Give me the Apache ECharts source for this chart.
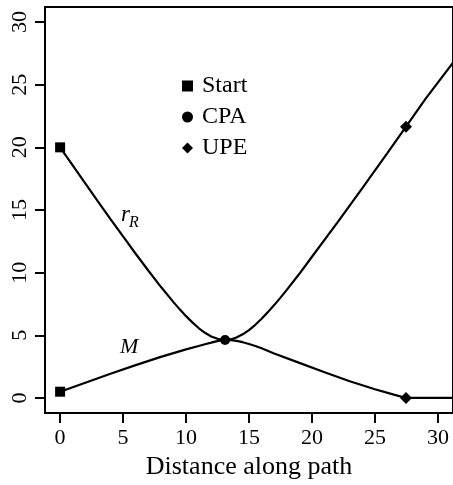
<!DOCTYPE html>
<html>
<head>
<meta charset="utf-8">
<script src="https://cdn.jsdelivr.net/npm/echarts@6/dist/echarts.min.js"></script>
<style>html,body{margin:0;padding:0;background:#fff;}#c{width:453px;height:485px;}</style>
</head>
<body>
<div id="c"></div>
<script>
// Data
var rX = [0,1,2,3,4,5,6,7,8,9,9.5,10,10.5,11,11.5,12,12.5,12.8,13.1,13.4,13.6,14,14.5,15,15.5,16,16.5,17,17.5,18,19,20,22,24,26,27.47,29,31.2];
var rY = [20.0,18.56,17.12,15.69,14.28,12.89,11.51,10.17,8.87,7.65,7.07,6.53,6.03,5.58,5.20,4.91,4.72,4.65,4.63,4.65,4.69,4.82,5.08,5.42,5.84,6.32,6.85,7.41,8.01,8.63,9.91,11.27,13.97,16.75,19.56,21.65,23.85,26.75];
var mX = [0,2,4,6,8,10,11,11.5,12,12.3,12.6,12.9,13.1,13.35,13.6,14,14.5,15,15.5,16,17,19,21,23,25,26.5,27.47,31.2];
var mY = [0.5,1.22,1.93,2.62,3.28,3.88,4.15,4.29,4.42,4.5,4.56,4.61,4.63,4.63,4.61,4.55,4.45,4.31,4.15,3.96,3.55,2.8,2.05,1.33,0.7,0.27,0,0];
var startPts = [[0,20.0],[0,0.5]];
var cpaPts = [[13.1,4.63]];
var upePts = [[27.47,21.65],[27.47,0]];
var xTicks = [0,5,10,15,20,25,30];
var yTicks = [0,5,10,15,20,25,30];
var legendNames = ['Start','CPA','UPE'];

function zip(xs, ys){ return xs.map(function(x,i){ return [x, ys[i]]; }); }

var FONT = 'Liberation Serif';
var diamond = 'path://M0,-1L1,0L0,1L-1,0Z';

var chart = echarts.init(document.getElementById('c'), null, {renderer:'canvas'});
chart.setOption({
  animation: false,
  backgroundColor: '#fff',
  grid: {left: 45, top: 7, width: 415, height: 406, show: true, borderColor: '#000', borderWidth: 2, backgroundColor: 'transparent'},
  xAxis: {
    type: 'value', min: -1.2, max: 31.2,
    axisLine: {show: false, onZero: false},
    splitLine: {show: false},
    axisTick: {show: true, length: 10, customValues: xTicks, lineStyle: {color: '#000', width: 2}},
    axisLabel: {customValues: xTicks, color: '#000', fontFamily: FONT, fontSize: 22, margin: 14},
    name: 'Distance along path', nameLocation: 'middle', nameGap: 40,
    nameTextStyle: {color: '#000', fontFamily: FONT, fontSize: 26}
  },
  yAxis: {
    type: 'value', min: -1.2, max: 31.2,
    axisLine: {show: false, onZero: false},
    splitLine: {show: false},
    axisTick: {show: true, length: 10, customValues: yTicks, lineStyle: {color: '#000', width: 2}},
    axisLabel: {customValues: yTicks, rotate: 90, color: '#000', fontFamily: FONT, fontSize: 22, margin: 14}
  },
  legend: {
    orient: 'vertical', left: 177, top: 69, itemWidth: 11, itemHeight: 11, itemGap: 7,
    textStyle: {color: '#000', fontFamily: FONT, fontSize: 24, padding: [0,0,0,4]},
    itemStyle: {opacity: 1},
    data: [
      {name: legendNames[0], icon: 'rect'},
      {name: legendNames[1], icon: 'circle'},
      {name: legendNames[2], icon: diamond}
    ]
  },
  series: [
    {type: 'line', name: 'rR', data: zip(rX, rY), showSymbol: false, smooth: false,
     lineStyle: {color: '#000', width: 2.2}, itemStyle: {color: '#000'}},
    {type: 'line', name: 'M', data: zip(mX, mY), showSymbol: false, smooth: false,
     lineStyle: {color: '#000', width: 2.2}, itemStyle: {color: '#000'}},
    {type: 'scatter', name: legendNames[0], data: startPts, symbol: 'rect', symbolSize: 10, itemStyle: {color: '#000', opacity: 1}, z: 5},
    {type: 'scatter', name: legendNames[1], data: cpaPts, symbol: 'circle', symbolSize: 10, itemStyle: {color: '#000', opacity: 1}, z: 5},
    {type: 'scatter', name: legendNames[2], data: upePts, symbol: diamond, symbolSize: 12, itemStyle: {color: '#000', opacity: 1}, z: 5}
  ],
  graphic: [
    {type: 'text', left: 121, top: 203, style: {text: 'r', fontFamily: FONT, fontStyle: 'italic', fontSize: 23, fill: '#000'}},
    {type: 'text', left: 129, top: 215, style: {text: 'R', fontFamily: FONT, fontStyle: 'italic', fontSize: 16, fill: '#000'}},
    {type: 'text', left: 120, top: 336, style: {text: 'M', fontFamily: FONT, fontStyle: 'italic', fontSize: 22, fill: '#000'}}
  ]
});
</script>
</body>
</html>
